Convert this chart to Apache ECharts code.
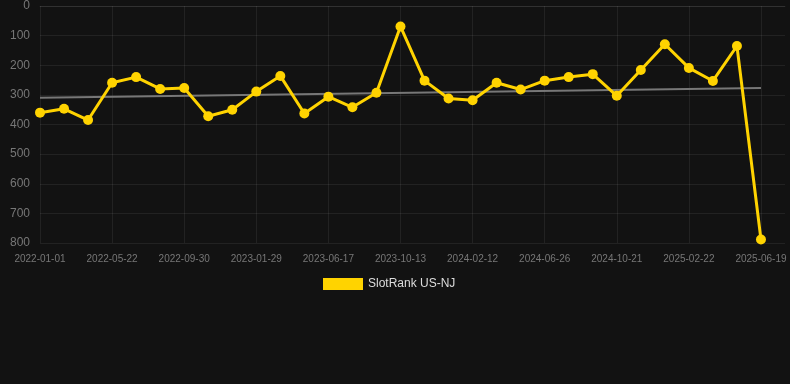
<!DOCTYPE html>
<html>
<head>
<meta charset="utf-8">
<script src="https://cdn.jsdelivr.net/npm/echarts@6/dist/echarts.min.js"></script>
<style>
html,body{margin:0;padding:0;background:#121212;}
#chart{width:790px;height:384px;}
</style>
</head>
<body>
<div id="chart"></div>
<script>
// Categories (labels shown every 3rd; intermediate dates approximate)
var dates = [
  '2022-01-01','2022-02-17','2022-04-05',
  '2022-05-22','2022-07-04','2022-08-17',
  '2022-09-30','2022-11-09','2022-12-19',
  '2023-01-29','2023-03-16','2023-05-02',
  '2023-06-17','2023-07-26','2023-09-03',
  '2023-10-13','2023-11-23','2024-01-02',
  '2024-02-12','2024-03-28','2024-05-12',
  '2024-06-26','2024-08-04','2024-09-12',
  '2024-10-21','2024-12-01','2025-01-11',
  '2025-02-22','2025-04-01','2025-05-10',
  '2025-06-19',''
];
var rankValues = [
  360, 347, 385, 259, 240, 280, 277, 372, 350, 289,
  236, 363, 306, 342, 293, 69, 252, 312, 318, 259,
  282, 252, 240, 230, 303, 216, 129, 209, 253, 135,
  788
];
var trendStart = 310;
var trendEnd = 277;
var seriesName = 'SlotRank US-NJ';

var chart = echarts.init(document.getElementById('chart'));
var gridColor = 'rgba(255,255,255,0.07)';
chart.setOption({
  backgroundColor: '#121212',
  animation: false,
  grid: {left: 40, right: 5, top: 6, bottom: 141, containLabel: false},
  legend: {
    data: [seriesName],
    top: 273,
    left: 318,
    itemWidth: 40,
    itemHeight: 12,
    icon: 'rect',
    textStyle: {color: '#dddddd', fontSize: 12, fontFamily: 'Liberation Sans, Arial, sans-serif'}
  },
  xAxis: {
    type: 'category',
    data: dates,
    boundaryGap: false,
    axisLine: {show: true, lineStyle: {color: gridColor}},
    axisTick: {show: false},
    axisLabel: {interval: 2, color: '#777777', fontSize: 10, margin: 11, fontFamily: 'Liberation Sans, Arial, sans-serif'},
    splitLine: {show: true, interval: 2, lineStyle: {color: gridColor}}
  },
  yAxis: {
    type: 'value',
    inverse: true,
    min: 0,
    max: 800,
    interval: 100,
    axisLine: {show: false},
    axisTick: {show: false},
    axisLabel: {color: '#777777', fontSize: 12, margin: 10, fontFamily: 'Liberation Sans, Arial, sans-serif'},
    splitLine: {show: true, lineStyle: {color: gridColor}}
  },
  series: [
    {
      name: seriesName,
      type: 'line',
      data: rankValues,
      symbol: 'circle',
      symbolSize: 10,
      itemStyle: {color: '#ffd300'},
      lineStyle: {color: '#ffd300', width: 3},
      z: 3
    },
    {
      name: 'trend',
      type: 'line',
      data: [[0, trendStart], [30, trendEnd]],
      symbol: 'none',
      lineStyle: {color: '#777777', width: 2},
      z: 2
    }
  ]
});
</script>
</body>
</html>
